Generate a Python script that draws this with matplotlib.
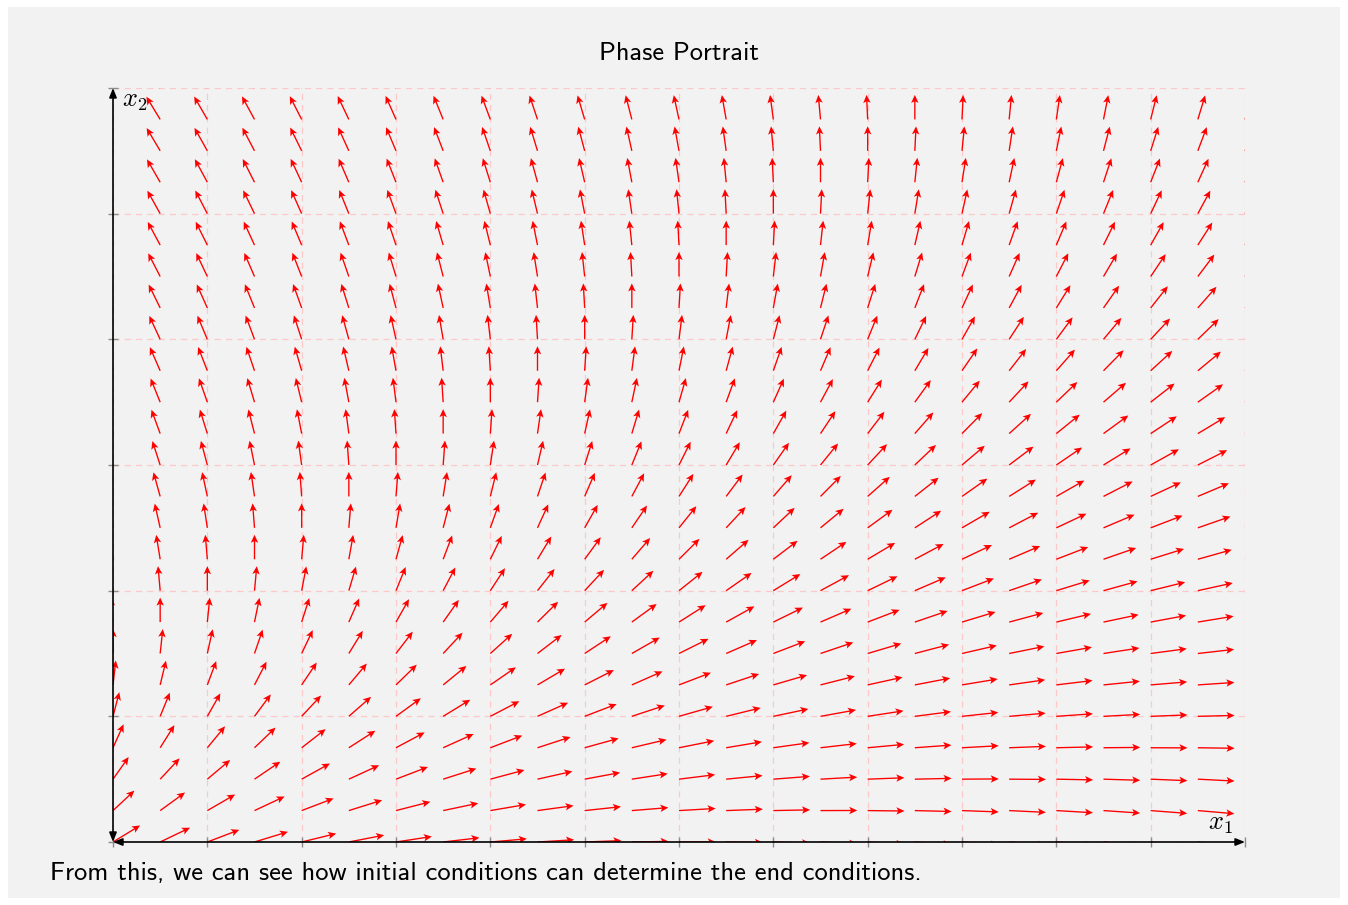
import numpy as np
import matplotlib
matplotlib.use("Agg")
import matplotlib.pyplot as plt
from matplotlib.patches import Rectangle

# ---- data ----
x1_samples = np.linspace(0, 12, 25)      # sample positions along x1
x2_samples = np.linspace(0, 12, 25)      # sample positions along x2
# vector field: dx1 = a*x1 + b*x2 + c ; dx2 = d*x1 + e*x2 + f (read from arrow directions)
coef_dx1 = [2.0, -2.0, 6.0]
coef_dx2 = [-0.92, 3.0, 5.5]
arrow_len = 0.39                         # normalized arrow length (data units)
x_ticks = list(range(0, 13, 1))
y_ticks = list(range(0, 13, 2))
title = "Phase Portrait"
caption = "From this, we can see how initial conditions can determine the end conditions."

plt.rcParams['mathtext.fontset'] = 'cm'

W, H = 1348, 905
fig = plt.figure(figsize=(W / 100, H / 100), dpi=100)
fig.patch.set_facecolor('white')
fig.patches.append(Rectangle((8 / W, 7 / H), 1332 / W, 891 / H, transform=fig.transFigure,
                             facecolor='#f2f2f2', edgecolor='none', zorder=-10))

ax = fig.add_axes([113 / W, 63 / H, 1132 / W, 754 / H])
ax.set_facecolor('none')
ax.set_xlim(0, 12)
ax.set_ylim(0, 12)
ax.set_xticks(x_ticks)
ax.set_yticks(y_ticks)
ax.set_xticklabels([])
ax.set_yticklabels([])
ax.tick_params(direction='inout', length=7, width=1, color='#8c8c8c')
for s in ax.spines.values():
    s.set_visible(False)
ax.grid(True, color='#fcc8c8', linestyle=(0, (5, 4)), linewidth=0.9)
ax.set_axisbelow(True)

X, Y = np.meshgrid(x1_samples, x2_samples)
DX = coef_dx1[0] * X + coef_dx1[1] * Y + coef_dx1[2]
DY = coef_dx2[0] * X + coef_dx2[1] * Y + coef_dx2[2]
N = np.hypot(DX, DY)
U = DX / N * arrow_len
V = DY / N * arrow_len
q = ax.quiver(X, Y, U, V, angles='xy', scale_units='xy', scale=1, color='red',
              units='dots', width=1.35, headwidth=5.5, headlength=6, headaxislength=4.8,
              pivot='tail', zorder=3)
q.set_clip_on(True)

arrow_kw = dict(arrowstyle='<|-|>,head_length=0.55,head_width=0.22', color='black',
                lw=1.2, shrinkA=0, shrinkB=0)
ax.annotate('', xy=(1, 0), xytext=(0, 0), xycoords='axes fraction',
            textcoords='axes fraction', arrowprops=arrow_kw, annotation_clip=False, zorder=5)
ax.annotate('', xy=(0, 1), xytext=(0, 0), xycoords='axes fraction',
            textcoords='axes fraction', arrowprops=arrow_kw, annotation_clip=False, zorder=5)

ax.text(0.9894, 0.0172, r'$x_1$', transform=ax.transAxes, ha='right', va='baseline',
        fontsize=19)
ax.text(0.008, 0.9748, r'$x_2$', transform=ax.transAxes, ha='left', va='baseline',
        fontsize=19)

fig.text(679 / W, 1 - 60 / H, title, ha='center', va='baseline', fontsize=19,
         family='cmss10')
fig.text(50 / W, 1 - 880 / H, caption, ha='left', va='baseline', fontsize=19.1,
         family='cmss10')

fig.savefig('out.png', dpi=100, facecolor=fig.get_facecolor())
